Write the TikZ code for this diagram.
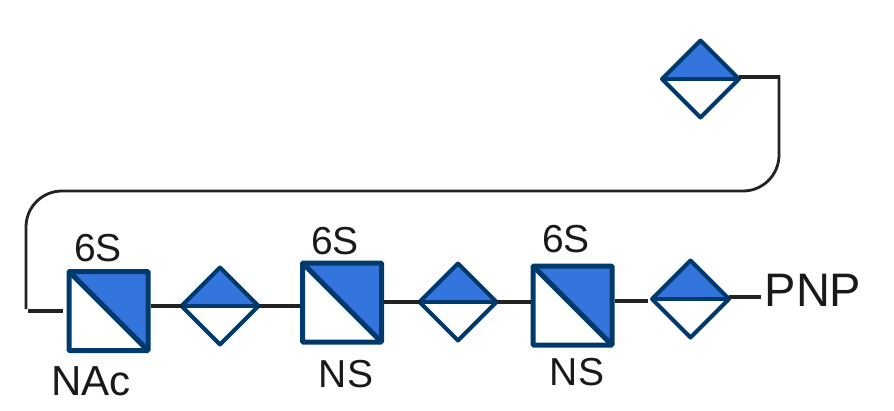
\documentclass[tikz,border=0pt]{standalone}
\usepackage{fontspec}
\setmainfont{Liberation Sans}
\usetikzlibrary{shapes.geometric}
\definecolor{fillblue}{HTML}{3375DC}
\definecolor{edgeblue}{HTML}{003A6C}
\definecolor{wire}{HTML}{222222}
\tikzset{
  sq/.style={rectangle,draw=edgeblue,line width=5pt,rounded corners=1pt,minimum size=79pt,inner sep=0pt,fill=white,
    path picture={
      \fill[fillblue] (path picture bounding box.north west) -- (path picture bounding box.north east) -- (path picture bounding box.south east) -- cycle;
      \draw[edgeblue,line width=5pt] (path picture bounding box.north west) -- (path picture bounding box.south east);
    }},
  dia/.style={diamond,aspect=1,draw=edgeblue,line width=4pt,line join=round,minimum size=77pt,inner sep=0pt,outer sep=0pt,fill=white,
    path picture={
      \fill[fillblue] (path picture bounding box.west) rectangle (path picture bounding box.north east);
      \draw[edgeblue,line width=4.2pt] (path picture bounding box.west) -- (path picture bounding box.east);
    }},
  wirel/.style={draw=wire,line width=3.2pt},
  lbl/.style={font=\fontsize{39}{41}\selectfont,text=black!90,inner sep=0pt}
}
\begin{document}
\begin{tikzpicture}[x=1pt,y=-1pt]
\useasboundingbox (0,0) rectangle (894,410);
\coordinate (tl) at (26,309);
\coordinate (tr) at (779,75);
\coordinate (st) at (28,311);
\coordinate (se) at (63,311);
\coordinate (ce) at (761,297);
\coordinate (cf) at (648,301);
\node[sq] (s1) at (108.5,311) {};
\node[sq] (s2) at (342,302.5) {};
\node[sq] (s3) at (572.5,305.5) {};
\node[dia] (d1) at (220,306) {};
\node[dia] (d2) at (458,302) {};
\node[dia] (d3) at (690.5,299) {};
\node[dia] (d4) at (700.5,79) {};
\draw[wirel] (d4.east |- 0,77) -- (779,77);
\draw[wirel,line width=2.8pt,rounded corners=36pt] (tr) -- (779,191) -- (26,191) -- (tl);
\draw[wirel] (st) -- (se);
\draw[wirel] (s1.east |- d1.west) -- (d1.west);
\draw[wirel] (d1.east) -- (d1.east -| s2.west);
\draw[wirel] (s2.east |- d2.west) -- (d2.west);
\draw[wirel] (d2.east) -- (d2.east -| s3.west);
\draw[wirel] (s3.east |- cf) -- (cf);
\draw[wirel] (d3.east |- ce) -- (ce);
\node[lbl] (l1) at (98,248) {6S};
\node[lbl] (l2) at (335,241) {6S};
\node[lbl] (l3) at (566,239) {6S};
\node[lbl,font=\fontsize{42}{44}\selectfont] (l4) at (91,381) {NAc};
\node[lbl] (l5) at (346,374) {NS};
\node[lbl] (l6) at (577,372) {NS};
\node[lbl,font=\fontsize{47}{49}\selectfont] (l7) at (813,290) {PNP};
\end{tikzpicture}
\end{document}
